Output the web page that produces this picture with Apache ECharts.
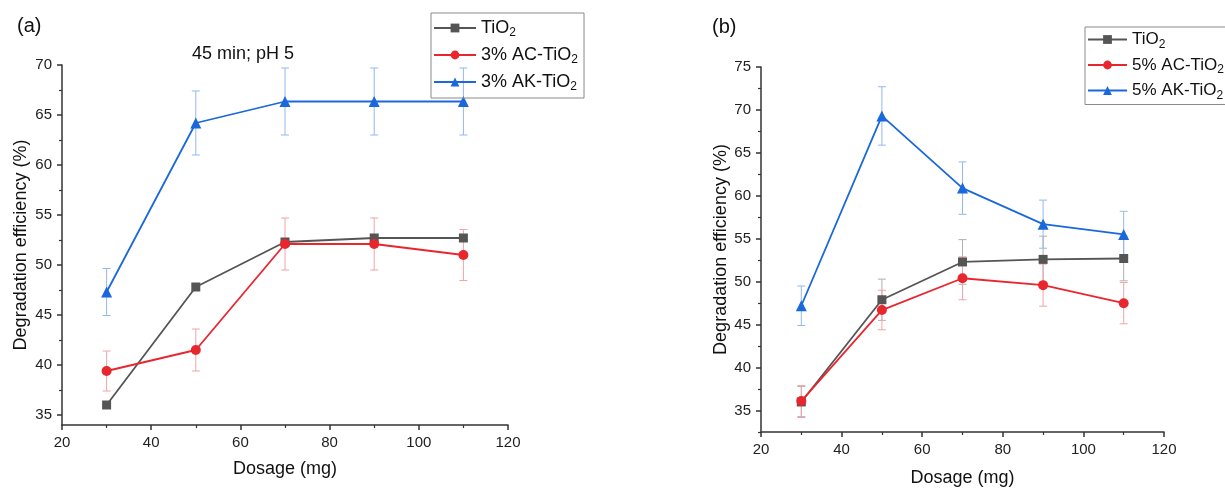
<!DOCTYPE html>
<html>
<head>
<meta charset="utf-8">
<script src="https://cdn.jsdelivr.net/npm/echarts@6/dist/echarts.min.js"></script>
<style>html,body{margin:0;padding:0;background:#fff}#c{width:1225px;height:492px}</style>
</head>
<body>
<div id="c"></div>
<script>
// ---- data ----
const dosage = [30, 50, 70, 90, 110];
const xTicks = [20, 40, 60, 80, 100, 120];
// panel (a)
const tio2A = [36.0, 47.8, 52.3, 52.7, 52.7];
const acA = [39.4, 41.5, 52.1, 52.1, 51.0];
const acAErr = [2.0, 2.1, 2.6, 2.6, 2.55];
const akA = [47.3, 64.2, 66.35, 66.35, 66.35];
const akAErr = [2.35, 3.2, 3.35, 3.35, 3.35];
const yTicksA = [35, 40, 45, 50, 55, 60, 65, 70];
const yMinorA = [37.5, 42.5, 47.5, 52.5, 57.5, 62.5, 67.5];
// panel (b)
const tio2B = [36.0, 47.9, 52.3, 52.6, 52.7];
const tio2BErr = [1.8, 2.4, 2.6, 2.7, 2.6];
const acB = [36.1, 46.7, 50.4, 49.6, 47.5];
const acBErr = [1.8, 2.3, 2.5, 2.45, 2.4];
const akB = [47.2, 69.3, 60.9, 56.7, 55.5];
const akBErr = [2.3, 3.4, 3.05, 2.8, 2.7];
const yTicksB = [35, 40, 45, 50, 55, 60, 65, 70, 75];
const yMinorB = [32.5, 37.5, 42.5, 47.5, 52.5, 57.5, 62.5, 67.5, 72.5];

const FONT = 'Liberation Sans, Arial, sans-serif';
const GRAY = '#555555', RED = '#e8262e', BLUE = '#1a68dc';
const GRAY_E = '#b0b0b0', RED_E = '#f2a3ab', BLUE_E = '#93b8ee';

const legendNames = {
  aT: 'TiO{s|2}', aC: '3% AC-TiO{s|2}', aK: '3% AK-TiO{s|2}',
  bT: 'TiO{s|2}', bC: '5% AC-TiO{s|2}', bK: '5% AK-TiO{s|2}'
};

function pairs(v) { return dosage.map((d, i) => [d, v[i]]); }
function errData(v, e) { return dosage.map((d, i) => [d, v[i] - e[i], v[i] + e[i]]); }
function errSeries(v, e, color, xi, yi) {
  return {
    type: 'custom', xAxisIndex: xi, yAxisIndex: yi, z: 1, silent: true,
    data: errData(v, e), encode: { x: 0, y: [1, 2] },
    renderItem: function (params, api) {
      const x = api.value(0);
      const lo = api.coord([x, api.value(1)]);
      const hi = api.coord([x, api.value(2)]);
      const w = 4;
      const st = { stroke: color, lineWidth: 1 };
      return { type: 'group', children: [
        { type: 'line', shape: { x1: hi[0], y1: hi[1], x2: lo[0], y2: lo[1] }, style: st },
        { type: 'line', shape: { x1: hi[0] - w, y1: hi[1], x2: hi[0] + w, y2: hi[1] }, style: st },
        { type: 'line', shape: { x1: lo[0] - w, y1: lo[1], x2: lo[0] + w, y2: lo[1] }, style: st }
      ]};
    }
  };
}
function lineSeries(name, v, color, symbol, size, xi, yi) {
  return {
    name: name, type: 'line', xAxisIndex: xi, yAxisIndex: yi, z: 3,
    data: pairs(v), symbol: symbol, symbolSize: size,
    lineStyle: { color: color, width: 1.8 },
    itemStyle: { color: color },
    emphasis: { disabled: true }
  };
}
function xAxis(gi) {
  return {
    type: 'value', gridIndex: gi, min: 20, max: 120, interval: 20,
    name: 'Dosage (mg)', nameLocation: 'middle', nameGap: gi === 0 ? 35 : 37,
    nameTextStyle: { fontSize: 18, color: '#111', fontFamily: FONT },
    axisLine: { show: true, onZero: false, lineStyle: { color: '#333', width: 1.5 } },
    axisTick: { show: true, length: 5, lineStyle: { color: '#333', width: 1.5 } },
    minorTick: { show: true, splitNumber: 2, length: 3, lineStyle: { color: '#333', width: 1.2 } },
    axisLabel: { fontSize: 15, color: '#222', fontFamily: FONT, margin: 10 },
    splitLine: { show: false }
  };
}
function yAxisMain(gi, min, max, ticks, gap) {
  return {
    type: 'value', gridIndex: gi, min: min, max: max, position: 'left',
    name: 'Degradation efficiency (%)', nameLocation: 'middle', nameGap: gap,
    nameTextStyle: { fontSize: 18, color: '#111', fontFamily: FONT },
    axisLine: { show: true, onZero: false, lineStyle: { color: '#333', width: 1.5 } },
    axisTick: { show: true, length: 5, customValues: ticks, lineStyle: { color: '#333', width: 1.5 } },
    axisLabel: { fontSize: 15, color: '#222', fontFamily: FONT, margin: 10, customValues: ticks },
    splitLine: { show: false }
  };
}
function yAxisMinor(gi, min, max, ticks) {
  return {
    type: 'value', gridIndex: gi, min: min, max: max, position: 'left',
    axisLine: { show: false },
    axisTick: { show: true, length: 3, customValues: ticks, lineStyle: { color: '#333', width: 1.2 } },
    axisLabel: { show: false, customValues: ticks },
    splitLine: { show: false }
  };
}
function legend(names, left, top, fs, iw, gap, pad) {
  return {
    data: names, orient: 'vertical', left: left, top: top,
    itemWidth: iw, itemHeight: 11, itemGap: gap,
    padding: pad,
    borderColor: '#8a8a8a', borderWidth: 1,
    formatter: n => legendNames[n],
    textStyle: { fontSize: fs, color: '#111', fontFamily: FONT,
      rich: { s: { fontSize: 12, fontFamily: FONT, color: '#111', padding: [10, 0, 0, 0] } } },
    selectedMode: false
  };
}

const chart = echarts.init(document.getElementById('c'), null, { renderer: 'canvas' });
chart.setOption({
  animation: false,
  backgroundColor: '#fff',
  title: [
    { text: '(a)', left: 12, top: 11, textStyle: { fontSize: 20, fontWeight: 'normal', color: '#111', fontFamily: FONT } },
    { text: '(b)', left: 707, top: 12, textStyle: { fontSize: 20, fontWeight: 'normal', color: '#111', fontFamily: FONT } },
    { text: '45 min; pH 5', left: 187, top: 40, textStyle: { fontSize: 18, fontWeight: 'normal', color: '#111', fontFamily: FONT } }
  ],
  grid: [
    { left: 62, right: 717, top: 65, bottom: 67, containLabel: false },
    { left: 761, right: 61, top: 67, bottom: 58, containLabel: false }
  ],
  legend: [
    legend(['aT', 'aC', 'aK'], 431, 13, 18, 42, 7, [6, 6, 5, 2]),
    legend(['bT', 'bC', 'bK'], 1085, 27, 17, 39, 6, [4, 8, 3, 2])
  ],
  xAxis: [xAxis(0), xAxis(1)],
  yAxis: [
    yAxisMain(0, 34, 70, yTicksA, 32),
    yAxisMinor(0, 34, 70, yMinorA),
    yAxisMain(1, 32.5, 75, yTicksB, 29),
    yAxisMinor(1, 32.5, 75, yMinorB)
  ],
  series: [
    errSeries(acA, acAErr, RED_E, 0, 0),
    errSeries(akA, akAErr, BLUE_E, 0, 0),
    lineSeries('aT', tio2A, GRAY, 'rect', 9, 0, 0),
    lineSeries('aC', acA, RED, 'circle', 10, 0, 0),
    lineSeries('aK', akA, BLUE, 'triangle', 11, 0, 0),
    errSeries(tio2B, tio2BErr, GRAY_E, 1, 2),
    errSeries(acB, acBErr, RED_E, 1, 2),
    errSeries(akB, akBErr, BLUE_E, 1, 2),
    lineSeries('bT', tio2B, GRAY, 'rect', 9, 1, 2),
    lineSeries('bC', acB, RED, 'circle', 10, 1, 2),
    lineSeries('bK', akB, BLUE, 'triangle', 11, 1, 2)
  ]
});
</script>
</body>
</html>
